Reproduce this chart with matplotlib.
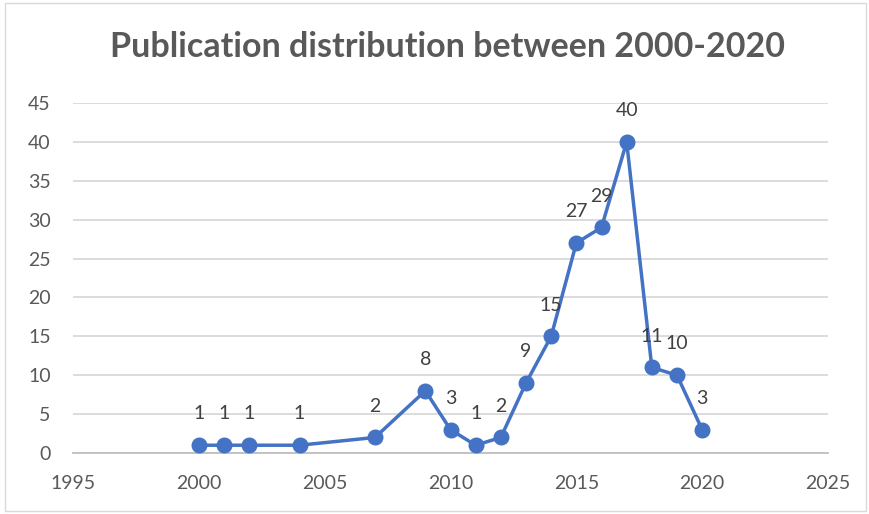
import matplotlib
matplotlib.use("Agg")
import matplotlib.pyplot as plt
from matplotlib.patches import Rectangle

years = [2000, 2001, 2002, 2004, 2007, 2009, 2010, 2011, 2012, 2013, 2014, 2015, 2016, 2017, 2018, 2019, 2020]
counts = [1, 1, 1, 1, 2, 8, 3, 1, 2, 9, 15, 27, 29, 40, 11, 10, 3]
x_ticks = [1995, 2000, 2005, 2010, 2015, 2020, 2025]
y_ticks = [0, 5, 10, 15, 20, 25, 30, 35, 40, 45]
title = "Publication distribution between 2000-2020"

plt.rcParams['font.family'] = ['Lato', 'DejaVu Sans']
fig = plt.figure(figsize=(8.69, 5.14), dpi=100)
fig.patches.append(Rectangle((5/869, 1-511/514), 861/869, 508/514, transform=fig.transFigure,
                             fill=False, edgecolor='#D9D9D9', linewidth=1))
ax = fig.add_axes([73/869, 1-453/514, 755/869, 350/514])
ax.plot(years, counts, color='#4472C4', linewidth=2.5, marker='o', markersize=10.5, zorder=3)
for x, y in zip(years, counts):
    ax.annotate(str(y), (x, y), xytext=(0, 22.5), textcoords='offset points',
                ha='center', va='center', fontsize=14, color='#404040')
ax.set_xlim(1995, 2025)
ax.set_ylim(0, 45)
ax.set_xticks(x_ticks)
ax.set_yticks(y_ticks)
ax.tick_params(axis='x', length=0, labelsize=14, labelcolor='#595959', pad=16)
ax.tick_params(axis='y', length=0, labelsize=14, labelcolor='#595959', pad=16)
ax.grid(axis='y', color='#D9D9D9', linewidth=1.3)
ax.set_axisbelow(True)
for s in ['top', 'right', 'left']:
    ax.spines[s].set_visible(False)
ax.spines['bottom'].set_color('#BFBFBF')
ax.spines['bottom'].set_linewidth(1.3)
fig.text(447/869, 1-47/514, title, ha='center', va='center', fontsize=24.5, fontweight='bold', color='#595959')
fig.savefig('out.png', dpi=100)
